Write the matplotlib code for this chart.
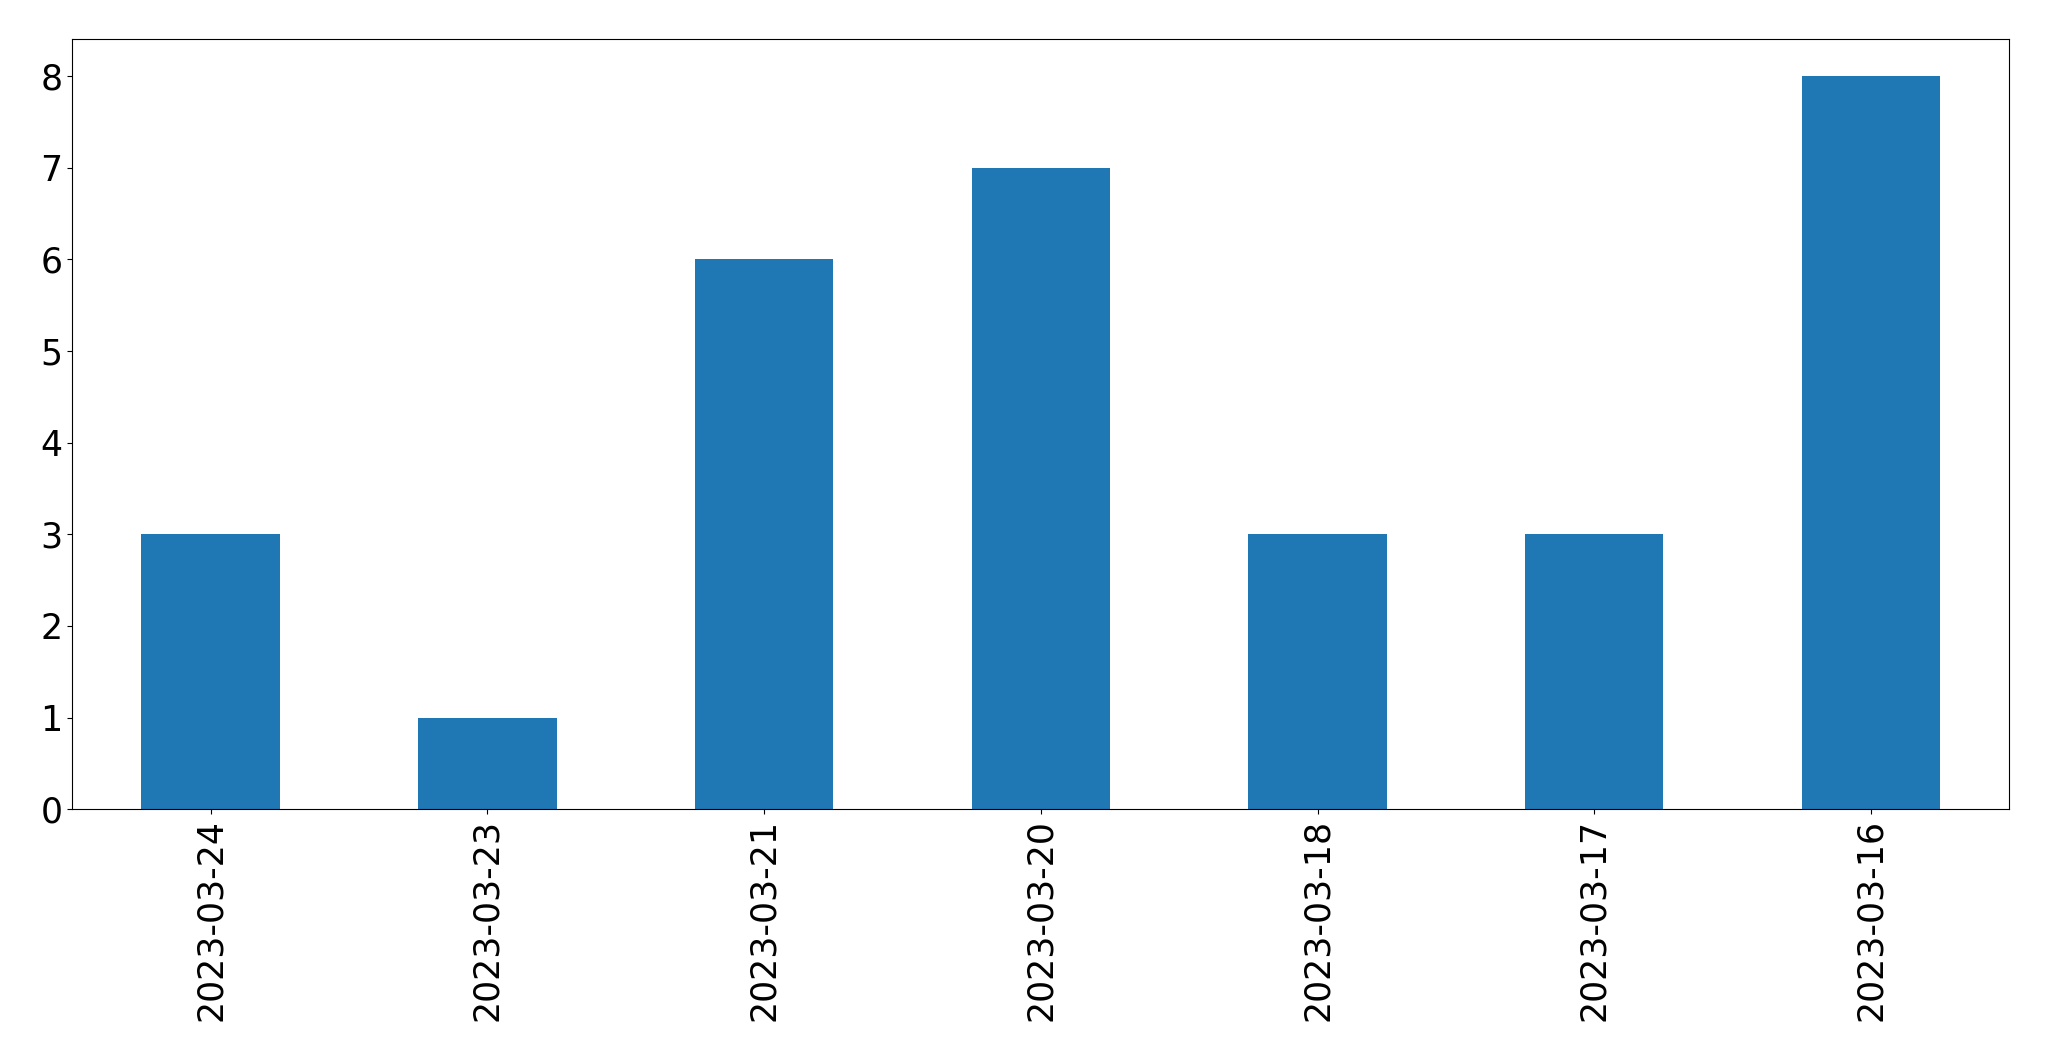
import pandas as pd
import matplotlib
matplotlib.use("Agg")
import matplotlib.pyplot as plt

# daily counts, newest first
dates = ["2023-03-24", "2023-03-23", "2023-03-21", "2023-03-20",
         "2023-03-18", "2023-03-17", "2023-03-16"]
counts = [3, 1, 6, 7, 3, 3, 8]

series = pd.Series(counts, index=dates)

fig = plt.figure(figsize=(20.49, 10.61), dpi=100)
ax = fig.add_axes([72.3 / 2049, 1 - 809.3 / 1061,
                   (2009.3 - 72.3) / 2049, (809.3 - 39.3) / 1061])
series.plot(kind="bar", ax=ax, color="#1f77b4", fontsize=25)

fig.savefig("out.png", dpi=100)
